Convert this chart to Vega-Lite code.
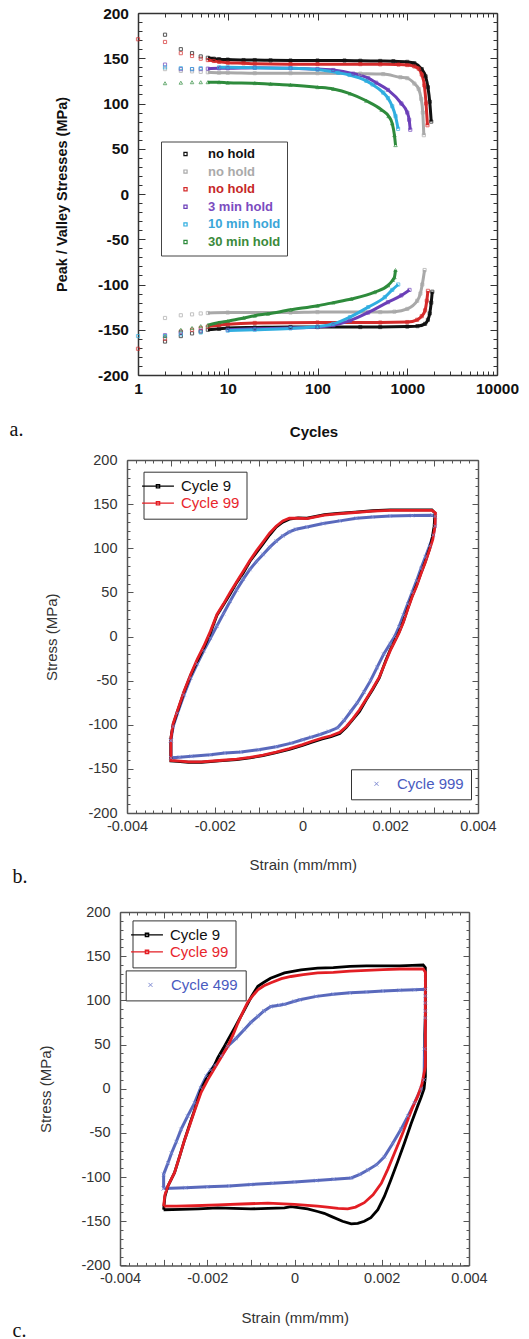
{
"$schema": "https://vega.github.io/schema/vega-lite/v6.json",
"background": "white",
"padding": {"left": 9, "top": 6, "right": 0, "bottom": 0},
"autosize": {"type": "pad"},
"bounds": "flush",
"spacing": 0,
"resolve": {"scale": {"color": "independent", "shape": "independent", "stroke": "independent"}, "legend": {"color": "independent", "shape": "independent"}},
"config": {"view": {"stroke": null}, "font": "Liberation Sans", "axis": {"grid": false}},
"datasets": {
"pa": [
{"s":"no hold","b":"p","c":2,"v":176},{"s":"no hold","b":"p","c":3,"v":160},{"s":"no hold","b":"p","c":4,"v":155.6},{"s":"no hold","b":"p","c":5,"v":152},{"s":"no hold","b":"p","c":6,"v":150.5},{"s":"no hold","b":"p","c":7,"v":149.5},{"s":"no hold","b":"p","c":8,"v":149},{"s":"no hold","b":"p","c":10,"v":148.5},{"s":"no hold","b":"p","c":15,"v":148},{"s":"no hold","b":"p","c":20,"v":148},{"s":"no hold","b":"p","c":30,"v":147.7},{"s":"no hold","b":"p","c":50,"v":147.5},{"s":"no hold","b":"p","c":100,"v":147.5},{"s":"no hold","b":"p","c":200,"v":147.5},{"s":"no hold","b":"p","c":300,"v":147.2},{"s":"no hold","b":"p","c":500,"v":147},{"s":"no hold","b":"p","c":700,"v":146.8},{"s":"no hold","b":"p","c":1000,"v":146},{"s":"no hold","b":"p","c":1200,"v":144.5},{"s":"no hold","b":"p","c":1450,"v":138},{"s":"no hold","b":"p","c":1600,"v":130},{"s":"no hold","b":"p","c":1700,"v":118},{"s":"no hold","b":"p","c":1780,"v":102},{"s":"no hold","b":"p","c":1850,"v":80},
{"s":"no hold","b":"v","c":2,"v":-163},{"s":"no hold","b":"v","c":3,"v":-157},{"s":"no hold","b":"v","c":4,"v":-154},{"s":"no hold","b":"v","c":5,"v":-152},{"s":"no hold","b":"v","c":6,"v":-150},{"s":"no hold","b":"v","c":8,"v":-149},{"s":"no hold","b":"v","c":10,"v":-148},{"s":"no hold","b":"v","c":20,"v":-147.5},{"s":"no hold","b":"v","c":50,"v":-147},{"s":"no hold","b":"v","c":100,"v":-147},{"s":"no hold","b":"v","c":300,"v":-147},{"s":"no hold","b":"v","c":500,"v":-147},{"s":"no hold","b":"v","c":1000,"v":-146.5},{"s":"no hold","b":"v","c":1300,"v":-146},{"s":"no hold","b":"v","c":1580,"v":-143.5},{"s":"no hold","b":"v","c":1700,"v":-139},{"s":"no hold","b":"v","c":1780,"v":-132},{"s":"no hold","b":"v","c":1850,"v":-120},{"s":"no hold","b":"v","c":1900,"v":-108},
{"s":"no hold ","b":"p","c":2,"v":138},{"s":"no hold ","b":"p","c":3,"v":136},{"s":"no hold ","b":"p","c":4,"v":135.5},{"s":"no hold ","b":"p","c":5,"v":135},{"s":"no hold ","b":"p","c":6,"v":134.5},{"s":"no hold ","b":"p","c":8,"v":134},{"s":"no hold ","b":"p","c":10,"v":134},{"s":"no hold ","b":"p","c":20,"v":133.5},{"s":"no hold ","b":"p","c":50,"v":133.5},{"s":"no hold ","b":"p","c":100,"v":133.5},{"s":"no hold ","b":"p","c":300,"v":133},{"s":"no hold ","b":"p","c":540,"v":132.5},{"s":"no hold ","b":"p","c":840,"v":129},{"s":"no hold ","b":"p","c":1000,"v":128},{"s":"no hold ","b":"p","c":1200,"v":122},{"s":"no hold ","b":"p","c":1340,"v":116},{"s":"no hold ","b":"p","c":1430,"v":105},{"s":"no hold ","b":"p","c":1490,"v":90},{"s":"no hold ","b":"p","c":1530,"v":65},
{"s":"no hold ","b":"v","c":2,"v":-137},{"s":"no hold ","b":"v","c":3,"v":-134},{"s":"no hold ","b":"v","c":4,"v":-133},{"s":"no hold ","b":"v","c":5,"v":-132},{"s":"no hold ","b":"v","c":6,"v":-131.5},{"s":"no hold ","b":"v","c":10,"v":-131},{"s":"no hold ","b":"v","c":50,"v":-131},{"s":"no hold ","b":"v","c":100,"v":-130.5},{"s":"no hold ","b":"v","c":500,"v":-130.5},{"s":"no hold ","b":"v","c":720,"v":-130},{"s":"no hold ","b":"v","c":1000,"v":-127},{"s":"no hold ","b":"v","c":1290,"v":-118},{"s":"no hold ","b":"v","c":1400,"v":-110},{"s":"no hold ","b":"v","c":1470,"v":-100},{"s":"no hold ","b":"v","c":1560,"v":-84},
{"s":"no hold  ","b":"p","c":1,"v":171},{"s":"no hold  ","b":"p","c":2,"v":168},{"s":"no hold  ","b":"p","c":3,"v":155.6},{"s":"no hold  ","b":"p","c":4,"v":152.5},{"s":"no hold  ","b":"p","c":5,"v":149.5},{"s":"no hold  ","b":"p","c":6,"v":148},{"s":"no hold  ","b":"p","c":7,"v":147},{"s":"no hold  ","b":"p","c":8,"v":146},{"s":"no hold  ","b":"p","c":10,"v":145},{"s":"no hold  ","b":"p","c":15,"v":144.5},{"s":"no hold  ","b":"p","c":20,"v":144},{"s":"no hold  ","b":"p","c":50,"v":143.5},{"s":"no hold  ","b":"p","c":100,"v":143.5},{"s":"no hold  ","b":"p","c":300,"v":143.5},{"s":"no hold  ","b":"p","c":500,"v":143.3},{"s":"no hold  ","b":"p","c":800,"v":143},{"s":"no hold  ","b":"p","c":1000,"v":142.5},{"s":"no hold  ","b":"p","c":1200,"v":141},{"s":"no hold  ","b":"p","c":1340,"v":138.5},{"s":"no hold  ","b":"p","c":1450,"v":132},{"s":"no hold  ","b":"p","c":1550,"v":120},{"s":"no hold  ","b":"p","c":1620,"v":100},{"s":"no hold  ","b":"p","c":1680,"v":76},
{"s":"no hold  ","b":"v","c":1,"v":-171},{"s":"no hold  ","b":"v","c":2,"v":-160},{"s":"no hold  ","b":"v","c":3,"v":-152},{"s":"no hold  ","b":"v","c":4,"v":-150},{"s":"no hold  ","b":"v","c":5,"v":-148},{"s":"no hold  ","b":"v","c":6,"v":-146.5},{"s":"no hold  ","b":"v","c":8,"v":-145},{"s":"no hold  ","b":"v","c":10,"v":-144},{"s":"no hold  ","b":"v","c":20,"v":-142.5},{"s":"no hold  ","b":"v","c":100,"v":-142},{"s":"no hold  ","b":"v","c":500,"v":-142},{"s":"no hold  ","b":"v","c":1000,"v":-141.5},{"s":"no hold  ","b":"v","c":1290,"v":-139},{"s":"no hold  ","b":"v","c":1450,"v":-135},{"s":"no hold  ","b":"v","c":1580,"v":-128.5},{"s":"no hold  ","b":"v","c":1650,"v":-118},{"s":"no hold  ","b":"v","c":1700,"v":-107},
{"s":"3 min hold","b":"p","c":2,"v":143},{"s":"3 min hold","b":"p","c":3,"v":138},{"s":"3 min hold","b":"p","c":4,"v":138},{"s":"3 min hold","b":"p","c":5,"v":138},{"s":"3 min hold","b":"p","c":6,"v":138.5},{"s":"3 min hold","b":"p","c":8,"v":139},{"s":"3 min hold","b":"p","c":10,"v":139},{"s":"3 min hold","b":"p","c":20,"v":139.5},{"s":"3 min hold","b":"p","c":50,"v":139},{"s":"3 min hold","b":"p","c":100,"v":138},{"s":"3 min hold","b":"p","c":150,"v":137},{"s":"3 min hold","b":"p","c":250,"v":133},{"s":"3 min hold","b":"p","c":367,"v":128},{"s":"3 min hold","b":"p","c":450,"v":123},{"s":"3 min hold","b":"p","c":610,"v":115},{"s":"3 min hold","b":"p","c":860,"v":100},{"s":"3 min hold","b":"p","c":1000,"v":90},{"s":"3 min hold","b":"p","c":1050,"v":82},{"s":"3 min hold","b":"p","c":1080,"v":71},
{"s":"3 min hold","b":"v","c":2,"v":-156},{"s":"3 min hold","b":"v","c":3,"v":-153},{"s":"3 min hold","b":"v","c":5,"v":-151},{"s":"3 min hold","b":"v","c":10,"v":-150},{"s":"3 min hold","b":"v","c":20,"v":-149},{"s":"3 min hold","b":"v","c":50,"v":-148},{"s":"3 min hold","b":"v","c":100,"v":-147},{"s":"3 min hold","b":"v","c":150,"v":-145},{"s":"3 min hold","b":"v","c":230,"v":-140},{"s":"3 min hold","b":"v","c":367,"v":-131},{"s":"3 min hold","b":"v","c":610,"v":-119.5},{"s":"3 min hold","b":"v","c":860,"v":-112},{"s":"3 min hold","b":"v","c":1060,"v":-106},
{"s":"10 min hold","b":"p","c":2,"v":140},{"s":"10 min hold","b":"p","c":3,"v":139},{"s":"10 min hold","b":"p","c":4,"v":138},{"s":"10 min hold","b":"p","c":5,"v":139},{"s":"10 min hold","b":"p","c":8,"v":140},{"s":"10 min hold","b":"p","c":10,"v":140},{"s":"10 min hold","b":"p","c":20,"v":139.5},{"s":"10 min hold","b":"p","c":50,"v":139},{"s":"10 min hold","b":"p","c":100,"v":137.5},{"s":"10 min hold","b":"p","c":170,"v":134},{"s":"10 min hold","b":"p","c":227,"v":131.5},{"s":"10 min hold","b":"p","c":350,"v":125},{"s":"10 min hold","b":"p","c":410,"v":121},{"s":"10 min hold","b":"p","c":540,"v":112},{"s":"10 min hold","b":"p","c":610,"v":106},{"s":"10 min hold","b":"p","c":680,"v":97},{"s":"10 min hold","b":"p","c":740,"v":86},{"s":"10 min hold","b":"p","c":790,"v":72},
{"s":"10 min hold","b":"v","c":1,"v":-157},{"s":"10 min hold","b":"v","c":2,"v":-157},{"s":"10 min hold","b":"v","c":3,"v":-155},{"s":"10 min hold","b":"v","c":5,"v":-153},{"s":"10 min hold","b":"v","c":10,"v":-151},{"s":"10 min hold","b":"v","c":20,"v":-150},{"s":"10 min hold","b":"v","c":50,"v":-148.5},{"s":"10 min hold","b":"v","c":100,"v":-146.5},{"s":"10 min hold","b":"v","c":150,"v":-143.5},{"s":"10 min hold","b":"v","c":230,"v":-136},{"s":"10 min hold","b":"v","c":367,"v":-125},{"s":"10 min hold","b":"v","c":563,"v":-114},{"s":"10 min hold","b":"v","c":680,"v":-106},{"s":"10 min hold","b":"v","c":793,"v":-100},
{"s":"30 min hold","b":"p","c":2,"v":122.4},{"s":"30 min hold","b":"p","c":3,"v":123},{"s":"30 min hold","b":"p","c":4,"v":123.5},{"s":"30 min hold","b":"p","c":5,"v":123.5},{"s":"30 min hold","b":"p","c":6,"v":123.5},{"s":"30 min hold","b":"p","c":8,"v":123.5},{"s":"30 min hold","b":"p","c":10,"v":123},{"s":"30 min hold","b":"p","c":20,"v":122.5},{"s":"30 min hold","b":"p","c":30,"v":121.5},{"s":"30 min hold","b":"p","c":50,"v":120.5},{"s":"30 min hold","b":"p","c":100,"v":118},{"s":"30 min hold","b":"p","c":150,"v":116},{"s":"30 min hold","b":"p","c":230,"v":111},{"s":"30 min hold","b":"p","c":350,"v":103},{"s":"30 min hold","b":"p","c":518,"v":93},{"s":"30 min hold","b":"p","c":620,"v":86},{"s":"30 min hold","b":"p","c":680,"v":78},{"s":"30 min hold","b":"p","c":720,"v":65},{"s":"30 min hold","b":"p","c":740,"v":54},
{"s":"30 min hold","b":"v","c":2,"v":-157},{"s":"30 min hold","b":"v","c":3,"v":-150},{"s":"30 min hold","b":"v","c":4,"v":-148},{"s":"30 min hold","b":"v","c":5,"v":-146},{"s":"30 min hold","b":"v","c":6,"v":-145},{"s":"30 min hold","b":"v","c":8,"v":-142},{"s":"30 min hold","b":"v","c":10,"v":-140.5},{"s":"30 min hold","b":"v","c":15,"v":-137},{"s":"30 min hold","b":"v","c":20,"v":-134.5},{"s":"30 min hold","b":"v","c":28,"v":-132.4},{"s":"30 min hold","b":"v","c":50,"v":-128},{"s":"30 min hold","b":"v","c":100,"v":-123.5},{"s":"30 min hold","b":"v","c":150,"v":-120},{"s":"30 min hold","b":"v","c":238,"v":-116},{"s":"30 min hold","b":"v","c":433,"v":-108.5},{"s":"30 min hold","b":"v","c":610,"v":-101},{"s":"30 min hold","b":"v","c":690,"v":-95},{"s":"30 min hold","b":"v","c":720,"v":-92},{"s":"30 min hold","b":"v","c":740,"v":-84}
],
"bl": [
{"k":"Cycle 9","i":1,"s":-0.003,"v":-115},{"k":"Cycle 9","i":2,"s":-0.00295,"v":-100},{"k":"Cycle 9","i":3,"s":-0.00285,"v":-85},{"k":"Cycle 9","i":4,"s":-0.0027,"v":-63},{"k":"Cycle 9","i":5,"s":-0.00255,"v":-44},{"k":"Cycle 9","i":6,"s":-0.0024,"v":-28},{"k":"Cycle 9","i":7,"s":-0.00225,"v":-13},{"k":"Cycle 9","i":8,"s":-0.0021,"v":4},{"k":"Cycle 9","i":9,"s":-0.00195,"v":24},{"k":"Cycle 9","i":10,"s":-0.0018,"v":36},{"k":"Cycle 9","i":11,"s":-0.00165,"v":48},{"k":"Cycle 9","i":12,"s":-0.0015,"v":61},{"k":"Cycle 9","i":13,"s":-0.00135,"v":72},{"k":"Cycle 9","i":14,"s":-0.0012,"v":85},{"k":"Cycle 9","i":15,"s":-0.00105,"v":95},{"k":"Cycle 9","i":16,"s":-0.0009,"v":105},{"k":"Cycle 9","i":17,"s":-0.00075,"v":115},{"k":"Cycle 9","i":18,"s":-0.0006,"v":124},{"k":"Cycle 9","i":19,"s":-0.00045,"v":129.5},{"k":"Cycle 9","i":20,"s":-0.0003,"v":133},{"k":"Cycle 9","i":21,"s":-0.0001,"v":134.5},{"k":"Cycle 9","i":22,"s":0.0001,"v":134},{"k":"Cycle 9","i":23,"s":0.0003,"v":136},{"k":"Cycle 9","i":24,"s":0.0005,"v":138},{"k":"Cycle 9","i":25,"s":0.0008,"v":139.5},{"k":"Cycle 9","i":26,"s":0.0012,"v":141},{"k":"Cycle 9","i":27,"s":0.0016,"v":142.5},{"k":"Cycle 9","i":28,"s":0.002,"v":143.5},{"k":"Cycle 9","i":29,"s":0.0025,"v":143.5},{"k":"Cycle 9","i":30,"s":0.00295,"v":143.5},{"k":"Cycle 9","i":31,"s":0.00302,"v":140},{"k":"Cycle 9","i":32,"s":0.003,"v":125},{"k":"Cycle 9","i":33,"s":0.00295,"v":110},{"k":"Cycle 9","i":34,"s":0.0029,"v":100},{"k":"Cycle 9","i":35,"s":0.0028,"v":85},{"k":"Cycle 9","i":36,"s":0.0027,"v":72},{"k":"Cycle 9","i":37,"s":0.0026,"v":58},{"k":"Cycle 9","i":38,"s":0.0025,"v":46},{"k":"Cycle 9","i":39,"s":0.0024,"v":32},{"k":"Cycle 9","i":40,"s":0.0023,"v":17},{"k":"Cycle 9","i":41,"s":0.0022,"v":5},{"k":"Cycle 9","i":42,"s":0.0021,"v":-5},{"k":"Cycle 9","i":43,"s":0.002,"v":-15},{"k":"Cycle 9","i":44,"s":0.0019,"v":-27},{"k":"Cycle 9","i":45,"s":0.00175,"v":-47},{"k":"Cycle 9","i":46,"s":0.0016,"v":-60},{"k":"Cycle 9","i":47,"s":0.00145,"v":-72},{"k":"Cycle 9","i":48,"s":0.0013,"v":-85},{"k":"Cycle 9","i":49,"s":0.00115,"v":-94},{"k":"Cycle 9","i":50,"s":0.001,"v":-103},{"k":"Cycle 9","i":51,"s":0.00085,"v":-110},{"k":"Cycle 9","i":52,"s":0.00065,"v":-113.5},{"k":"Cycle 9","i":53,"s":0.00045,"v":-116},{"k":"Cycle 9","i":54,"s":0.0002,"v":-120},{"k":"Cycle 9","i":55,"s":0,"v":-123.5},{"k":"Cycle 9","i":56,"s":-0.0003,"v":-128},{"k":"Cycle 9","i":57,"s":-0.0006,"v":-131.5},{"k":"Cycle 9","i":58,"s":-0.0009,"v":-135},{"k":"Cycle 9","i":59,"s":-0.0012,"v":-137.5},{"k":"Cycle 9","i":60,"s":-0.0015,"v":-139.5},{"k":"Cycle 9","i":61,"s":-0.0019,"v":-141},{"k":"Cycle 9","i":62,"s":-0.0023,"v":-142.5},{"k":"Cycle 9","i":63,"s":-0.0026,"v":-142.5},{"k":"Cycle 9","i":64,"s":-0.00285,"v":-141.5},{"k":"Cycle 9","i":65,"s":-0.003,"v":-141},{"k":"Cycle 9","i":66,"s":-0.003,"v":-115},
{"k":"Cycle 99","i":1,"s":-0.003,"v":-116},{"k":"Cycle 99","i":2,"s":-0.00295,"v":-99},{"k":"Cycle 99","i":3,"s":-0.00285,"v":-84},{"k":"Cycle 99","i":4,"s":-0.0027,"v":-62},{"k":"Cycle 99","i":5,"s":-0.00255,"v":-43},{"k":"Cycle 99","i":6,"s":-0.0024,"v":-26},{"k":"Cycle 99","i":7,"s":-0.00225,"v":-11},{"k":"Cycle 99","i":8,"s":-0.0021,"v":6},{"k":"Cycle 99","i":9,"s":-0.00195,"v":25},{"k":"Cycle 99","i":10,"s":-0.0018,"v":37},{"k":"Cycle 99","i":11,"s":-0.00165,"v":50},{"k":"Cycle 99","i":12,"s":-0.0015,"v":62},{"k":"Cycle 99","i":13,"s":-0.00135,"v":74},{"k":"Cycle 99","i":14,"s":-0.0012,"v":86},{"k":"Cycle 99","i":15,"s":-0.00105,"v":97},{"k":"Cycle 99","i":16,"s":-0.0009,"v":107},{"k":"Cycle 99","i":17,"s":-0.00075,"v":117},{"k":"Cycle 99","i":18,"s":-0.0006,"v":125},{"k":"Cycle 99","i":19,"s":-0.00045,"v":131},{"k":"Cycle 99","i":20,"s":-0.0003,"v":134},{"k":"Cycle 99","i":21,"s":-0.0001,"v":134},{"k":"Cycle 99","i":22,"s":0.0001,"v":133.5},{"k":"Cycle 99","i":23,"s":0.0003,"v":135.5},{"k":"Cycle 99","i":24,"s":0.0005,"v":137.5},{"k":"Cycle 99","i":25,"s":0.0008,"v":139},{"k":"Cycle 99","i":26,"s":0.0012,"v":140.5},{"k":"Cycle 99","i":27,"s":0.0016,"v":142},{"k":"Cycle 99","i":28,"s":0.002,"v":143},{"k":"Cycle 99","i":29,"s":0.0025,"v":143},{"k":"Cycle 99","i":30,"s":0.00295,"v":143},{"k":"Cycle 99","i":31,"s":0.00303,"v":140},{"k":"Cycle 99","i":32,"s":0.00302,"v":125},{"k":"Cycle 99","i":33,"s":0.00297,"v":110},{"k":"Cycle 99","i":34,"s":0.0029,"v":99},{"k":"Cycle 99","i":35,"s":0.0028,"v":84},{"k":"Cycle 99","i":36,"s":0.0027,"v":71},{"k":"Cycle 99","i":37,"s":0.0026,"v":57},{"k":"Cycle 99","i":38,"s":0.0025,"v":45},{"k":"Cycle 99","i":39,"s":0.0024,"v":31},{"k":"Cycle 99","i":40,"s":0.0023,"v":16},{"k":"Cycle 99","i":41,"s":0.0022,"v":4},{"k":"Cycle 99","i":42,"s":0.0021,"v":-6},{"k":"Cycle 99","i":43,"s":0.002,"v":-16},{"k":"Cycle 99","i":44,"s":0.0019,"v":-28},{"k":"Cycle 99","i":45,"s":0.00175,"v":-46},{"k":"Cycle 99","i":46,"s":0.0016,"v":-59},{"k":"Cycle 99","i":47,"s":0.00145,"v":-71},{"k":"Cycle 99","i":48,"s":0.0013,"v":-83},{"k":"Cycle 99","i":49,"s":0.00115,"v":-93},{"k":"Cycle 99","i":50,"s":0.001,"v":-102},{"k":"Cycle 99","i":51,"s":0.00085,"v":-108.5},{"k":"Cycle 99","i":52,"s":0.00065,"v":-112.5},{"k":"Cycle 99","i":53,"s":0.00045,"v":-115},{"k":"Cycle 99","i":54,"s":0.0002,"v":-119},{"k":"Cycle 99","i":55,"s":0,"v":-122.5},{"k":"Cycle 99","i":56,"s":-0.0003,"v":-127},{"k":"Cycle 99","i":57,"s":-0.0006,"v":-131},{"k":"Cycle 99","i":58,"s":-0.0009,"v":-134.5},{"k":"Cycle 99","i":59,"s":-0.0012,"v":-137},{"k":"Cycle 99","i":60,"s":-0.0015,"v":-139},{"k":"Cycle 99","i":61,"s":-0.0019,"v":-140.5},{"k":"Cycle 99","i":62,"s":-0.0023,"v":-142},{"k":"Cycle 99","i":63,"s":-0.0026,"v":-142},{"k":"Cycle 99","i":64,"s":-0.00285,"v":-141},{"k":"Cycle 99","i":65,"s":-0.003,"v":-140.5},{"k":"Cycle 99","i":66,"s":-0.003,"v":-116}
],
"bb": [
{"lab":"Cycle 999","i":1,"s":-0.003,"v":-118},{"lab":"Cycle 999","i":2,"s":-0.00295,"v":-102},{"lab":"Cycle 999","i":3,"s":-0.00285,"v":-87},{"lab":"Cycle 999","i":4,"s":-0.0027,"v":-66},{"lab":"Cycle 999","i":5,"s":-0.00255,"v":-47},{"lab":"Cycle 999","i":6,"s":-0.0024,"v":-31},{"lab":"Cycle 999","i":7,"s":-0.00225,"v":-16},{"lab":"Cycle 999","i":8,"s":-0.0021,"v":-2},{"lab":"Cycle 999","i":9,"s":-0.00195,"v":12},{"lab":"Cycle 999","i":10,"s":-0.0018,"v":26},{"lab":"Cycle 999","i":11,"s":-0.00165,"v":40},{"lab":"Cycle 999","i":12,"s":-0.0015,"v":53},{"lab":"Cycle 999","i":13,"s":-0.00135,"v":65},{"lab":"Cycle 999","i":14,"s":-0.0012,"v":76},{"lab":"Cycle 999","i":15,"s":-0.00105,"v":85},{"lab":"Cycle 999","i":16,"s":-0.0009,"v":93},{"lab":"Cycle 999","i":17,"s":-0.00075,"v":101},{"lab":"Cycle 999","i":18,"s":-0.0006,"v":108},{"lab":"Cycle 999","i":19,"s":-0.00045,"v":114},{"lab":"Cycle 999","i":20,"s":-0.0003,"v":118.5},{"lab":"Cycle 999","i":21,"s":-0.00015,"v":121.5},{"lab":"Cycle 999","i":22,"s":0.0001,"v":124},{"lab":"Cycle 999","i":23,"s":0.00047,"v":128},{"lab":"Cycle 999","i":24,"s":0.00085,"v":131},{"lab":"Cycle 999","i":25,"s":0.00123,"v":134},{"lab":"Cycle 999","i":26,"s":0.0016,"v":135.5},{"lab":"Cycle 999","i":27,"s":0.002,"v":136.5},{"lab":"Cycle 999","i":28,"s":0.0025,"v":137},{"lab":"Cycle 999","i":29,"s":0.00295,"v":137.5},{"lab":"Cycle 999","i":30,"s":0.00302,"v":136},{"lab":"Cycle 999","i":31,"s":0.00302,"v":125},{"lab":"Cycle 999","i":32,"s":0.00298,"v":115},{"lab":"Cycle 999","i":33,"s":0.0029,"v":103},{"lab":"Cycle 999","i":34,"s":0.0028,"v":90},{"lab":"Cycle 999","i":35,"s":0.0027,"v":77},{"lab":"Cycle 999","i":36,"s":0.0026,"v":63},{"lab":"Cycle 999","i":37,"s":0.0025,"v":50},{"lab":"Cycle 999","i":38,"s":0.0024,"v":37},{"lab":"Cycle 999","i":39,"s":0.0023,"v":24},{"lab":"Cycle 999","i":40,"s":0.0022,"v":11},{"lab":"Cycle 999","i":41,"s":0.0021,"v":0},{"lab":"Cycle 999","i":42,"s":0.002,"v":-8},{"lab":"Cycle 999","i":43,"s":0.00185,"v":-20},{"lab":"Cycle 999","i":44,"s":0.0017,"v":-35},{"lab":"Cycle 999","i":45,"s":0.00155,"v":-50},{"lab":"Cycle 999","i":46,"s":0.0014,"v":-63},{"lab":"Cycle 999","i":47,"s":0.00125,"v":-75},{"lab":"Cycle 999","i":48,"s":0.0011,"v":-85},{"lab":"Cycle 999","i":49,"s":0.00095,"v":-95},{"lab":"Cycle 999","i":50,"s":0.0008,"v":-103.5},{"lab":"Cycle 999","i":51,"s":0.0006,"v":-107.5},{"lab":"Cycle 999","i":52,"s":0.0004,"v":-111},{"lab":"Cycle 999","i":53,"s":0.0002,"v":-114},{"lab":"Cycle 999","i":54,"s":0,"v":-117},{"lab":"Cycle 999","i":55,"s":-0.00025,"v":-120.8},{"lab":"Cycle 999","i":56,"s":-0.0006,"v":-125},{"lab":"Cycle 999","i":57,"s":-0.001,"v":-128.3},{"lab":"Cycle 999","i":58,"s":-0.0014,"v":-130.8},{"lab":"Cycle 999","i":59,"s":-0.00177,"v":-132},{"lab":"Cycle 999","i":60,"s":-0.0021,"v":-134},{"lab":"Cycle 999","i":61,"s":-0.00253,"v":-135.8},{"lab":"Cycle 999","i":62,"s":-0.0028,"v":-136.8},{"lab":"Cycle 999","i":63,"s":-0.003,"v":-137.5},{"lab":"Cycle 999","i":64,"s":-0.003,"v":-118}
],
"cl": [
{"k":"Cycle 9","i":1,"s":-0.003,"v":-137},{"k":"Cycle 9","i":2,"s":-0.00297,"v":-122},{"k":"Cycle 9","i":3,"s":-0.0029,"v":-110},{"k":"Cycle 9","i":4,"s":-0.00275,"v":-95},{"k":"Cycle 9","i":5,"s":-0.00263,"v":-76},{"k":"Cycle 9","i":6,"s":-0.00252,"v":-58},{"k":"Cycle 9","i":7,"s":-0.0024,"v":-40},{"k":"Cycle 9","i":8,"s":-0.00229,"v":-24},{"k":"Cycle 9","i":9,"s":-0.00214,"v":-1},{"k":"Cycle 9","i":10,"s":-0.00199,"v":14},{"k":"Cycle 9","i":11,"s":-0.00185,"v":25},{"k":"Cycle 9","i":12,"s":-0.00176,"v":35},{"k":"Cycle 9","i":13,"s":-0.00163,"v":46},{"k":"Cycle 9","i":14,"s":-0.00153,"v":55},{"k":"Cycle 9","i":15,"s":-0.00137,"v":69},{"k":"Cycle 9","i":16,"s":-0.00125,"v":80},{"k":"Cycle 9","i":17,"s":-0.00115,"v":89},{"k":"Cycle 9","i":18,"s":-0.00099,"v":104},{"k":"Cycle 9","i":19,"s":-0.00084,"v":116},{"k":"Cycle 9","i":20,"s":-0.0007,"v":120.5},{"k":"Cycle 9","i":21,"s":-0.00055,"v":125},{"k":"Cycle 9","i":22,"s":-0.00023,"v":131},{"k":"Cycle 9","i":23,"s":0.00015,"v":134.5},{"k":"Cycle 9","i":24,"s":0.00053,"v":136.5},{"k":"Cycle 9","i":25,"s":0.00089,"v":137},{"k":"Cycle 9","i":26,"s":0.00127,"v":138.5},{"k":"Cycle 9","i":27,"s":0.00165,"v":139},{"k":"Cycle 9","i":28,"s":0.00203,"v":139},{"k":"Cycle 9","i":29,"s":0.00241,"v":139},{"k":"Cycle 9","i":30,"s":0.0027,"v":139.5},{"k":"Cycle 9","i":31,"s":0.00295,"v":140},{"k":"Cycle 9","i":32,"s":0.003,"v":137},{"k":"Cycle 9","i":33,"s":0.003,"v":112},{"k":"Cycle 9","i":34,"s":0.003,"v":85},{"k":"Cycle 9","i":35,"s":0.00299,"v":61},{"k":"Cycle 9","i":36,"s":0.003,"v":35},{"k":"Cycle 9","i":37,"s":0.003,"v":14},{"k":"Cycle 9","i":38,"s":0.00297,"v":0},{"k":"Cycle 9","i":39,"s":0.0029,"v":-10},{"k":"Cycle 9","i":40,"s":0.00282,"v":-20},{"k":"Cycle 9","i":41,"s":0.00267,"v":-40},{"k":"Cycle 9","i":42,"s":0.00252,"v":-61.5},{"k":"Cycle 9","i":43,"s":0.00237,"v":-82},{"k":"Cycle 9","i":44,"s":0.00221,"v":-103},{"k":"Cycle 9","i":45,"s":0.00206,"v":-122},{"k":"Cycle 9","i":46,"s":0.00191,"v":-137},{"k":"Cycle 9","i":47,"s":0.00175,"v":-146},{"k":"Cycle 9","i":48,"s":0.0016,"v":-150},{"k":"Cycle 9","i":49,"s":0.00145,"v":-152.5},{"k":"Cycle 9","i":50,"s":0.0013,"v":-153},{"k":"Cycle 9","i":51,"s":0.0011,"v":-150},{"k":"Cycle 9","i":52,"s":0.00084,"v":-144.5},{"k":"Cycle 9","i":53,"s":0.00068,"v":-141},{"k":"Cycle 9","i":54,"s":0.00053,"v":-139},{"k":"Cycle 9","i":55,"s":0.0003,"v":-136},{"k":"Cycle 9","i":56,"s":-0.00008,"v":-133.5},{"k":"Cycle 9","i":57,"s":-0.00023,"v":-135},{"k":"Cycle 9","i":58,"s":-0.0006,"v":-135.5},{"k":"Cycle 9","i":59,"s":-0.001,"v":-136},{"k":"Cycle 9","i":60,"s":-0.0014,"v":-135.5},{"k":"Cycle 9","i":61,"s":-0.00176,"v":-135},{"k":"Cycle 9","i":62,"s":-0.0022,"v":-136},{"k":"Cycle 9","i":63,"s":-0.0026,"v":-136.5},{"k":"Cycle 9","i":64,"s":-0.003,"v":-137},
{"k":"Cycle 99","i":1,"s":-0.003,"v":-133},{"k":"Cycle 99","i":2,"s":-0.00297,"v":-120},{"k":"Cycle 99","i":3,"s":-0.0029,"v":-110},{"k":"Cycle 99","i":4,"s":-0.00275,"v":-95},{"k":"Cycle 99","i":5,"s":-0.00263,"v":-76},{"k":"Cycle 99","i":6,"s":-0.00252,"v":-58},{"k":"Cycle 99","i":7,"s":-0.0024,"v":-41},{"k":"Cycle 99","i":8,"s":-0.00229,"v":-25},{"k":"Cycle 99","i":9,"s":-0.00214,"v":-4},{"k":"Cycle 99","i":10,"s":-0.00199,"v":10},{"k":"Cycle 99","i":11,"s":-0.00187,"v":20},{"k":"Cycle 99","i":12,"s":-0.00176,"v":29},{"k":"Cycle 99","i":13,"s":-0.00165,"v":38},{"k":"Cycle 99","i":14,"s":-0.00153,"v":48},{"k":"Cycle 99","i":15,"s":-0.0014,"v":62},{"k":"Cycle 99","i":16,"s":-0.0013,"v":74},{"k":"Cycle 99","i":17,"s":-0.00118,"v":87},{"k":"Cycle 99","i":18,"s":-0.00107,"v":98},{"k":"Cycle 99","i":19,"s":-0.00096,"v":105},{"k":"Cycle 99","i":20,"s":-0.00084,"v":112},{"k":"Cycle 99","i":21,"s":-0.0007,"v":116.5},{"k":"Cycle 99","i":22,"s":-0.00054,"v":120},{"k":"Cycle 99","i":23,"s":-0.0003,"v":124.5},{"k":"Cycle 99","i":24,"s":-0.00008,"v":127},{"k":"Cycle 99","i":25,"s":0.0002,"v":129},{"k":"Cycle 99","i":26,"s":0.00053,"v":131},{"k":"Cycle 99","i":27,"s":0.00089,"v":131.6},{"k":"Cycle 99","i":28,"s":0.00127,"v":133},{"k":"Cycle 99","i":29,"s":0.00165,"v":134},{"k":"Cycle 99","i":30,"s":0.00203,"v":134.8},{"k":"Cycle 99","i":31,"s":0.00241,"v":135.5},{"k":"Cycle 99","i":32,"s":0.0027,"v":135.5},{"k":"Cycle 99","i":33,"s":0.00295,"v":135.5},{"k":"Cycle 99","i":34,"s":0.003,"v":132},{"k":"Cycle 99","i":35,"s":0.003,"v":110},{"k":"Cycle 99","i":36,"s":0.003,"v":85},{"k":"Cycle 99","i":37,"s":0.003,"v":60},{"k":"Cycle 99","i":38,"s":0.003,"v":40},{"k":"Cycle 99","i":39,"s":0.003,"v":25},{"k":"Cycle 99","i":40,"s":0.00292,"v":5},{"k":"Cycle 99","i":41,"s":0.00282,"v":-9},{"k":"Cycle 99","i":42,"s":0.0027,"v":-22},{"k":"Cycle 99","i":43,"s":0.0026,"v":-35},{"k":"Cycle 99","i":44,"s":0.00245,"v":-54},{"k":"Cycle 99","i":45,"s":0.00229,"v":-73},{"k":"Cycle 99","i":46,"s":0.00214,"v":-91},{"k":"Cycle 99","i":47,"s":0.00199,"v":-107},{"k":"Cycle 99","i":48,"s":0.0018,"v":-120},{"k":"Cycle 99","i":49,"s":0.0016,"v":-129},{"k":"Cycle 99","i":50,"s":0.0014,"v":-134},{"k":"Cycle 99","i":51,"s":0.00122,"v":-136},{"k":"Cycle 99","i":52,"s":0.001,"v":-135.5},{"k":"Cycle 99","i":53,"s":0.00075,"v":-134},{"k":"Cycle 99","i":54,"s":0.00053,"v":-133},{"k":"Cycle 99","i":55,"s":0,"v":-131},{"k":"Cycle 99","i":56,"s":-0.00061,"v":-129.5},{"k":"Cycle 99","i":57,"s":-0.0012,"v":-130.5},{"k":"Cycle 99","i":58,"s":-0.00176,"v":-131.5},{"k":"Cycle 99","i":59,"s":-0.0023,"v":-132.5},{"k":"Cycle 99","i":60,"s":-0.0027,"v":-133},{"k":"Cycle 99","i":61,"s":-0.003,"v":-133}
],
"cb": [
{"lab":"Cycle 499","i":1,"s":-0.003,"v":-113},{"lab":"Cycle 499","i":2,"s":-0.003,"v":-97},{"lab":"Cycle 499","i":3,"s":-0.0029,"v":-84},{"lab":"Cycle 499","i":4,"s":-0.00282,"v":-73},{"lab":"Cycle 499","i":5,"s":-0.00271,"v":-60},{"lab":"Cycle 499","i":6,"s":-0.0026,"v":-46},{"lab":"Cycle 499","i":7,"s":-0.00245,"v":-31},{"lab":"Cycle 499","i":8,"s":-0.00229,"v":-16},{"lab":"Cycle 499","i":9,"s":-0.00215,"v":1},{"lab":"Cycle 499","i":10,"s":-0.00202,"v":14},{"lab":"Cycle 499","i":11,"s":-0.00192,"v":21},{"lab":"Cycle 499","i":12,"s":-0.00183,"v":27},{"lab":"Cycle 499","i":13,"s":-0.00168,"v":37},{"lab":"Cycle 499","i":14,"s":-0.00153,"v":48},{"lab":"Cycle 499","i":15,"s":-0.00134,"v":57},{"lab":"Cycle 499","i":16,"s":-0.00115,"v":67},{"lab":"Cycle 499","i":17,"s":-0.001,"v":75},{"lab":"Cycle 499","i":18,"s":-0.00084,"v":82},{"lab":"Cycle 499","i":19,"s":-0.0007,"v":88},{"lab":"Cycle 499","i":20,"s":-0.00054,"v":93},{"lab":"Cycle 499","i":21,"s":-0.00035,"v":94.5},{"lab":"Cycle 499","i":22,"s":-0.00023,"v":95.5},{"lab":"Cycle 499","i":23,"s":0,"v":99},{"lab":"Cycle 499","i":24,"s":0.00012,"v":100.7},{"lab":"Cycle 499","i":25,"s":0.0005,"v":104.5},{"lab":"Cycle 499","i":26,"s":0.00089,"v":107},{"lab":"Cycle 499","i":27,"s":0.00127,"v":108.5},{"lab":"Cycle 499","i":28,"s":0.00165,"v":109.5},{"lab":"Cycle 499","i":29,"s":0.00203,"v":110.5},{"lab":"Cycle 499","i":30,"s":0.00241,"v":111.3},{"lab":"Cycle 499","i":31,"s":0.00275,"v":112},{"lab":"Cycle 499","i":32,"s":0.003,"v":112.5},{"lab":"Cycle 499","i":33,"s":0.003,"v":105},{"lab":"Cycle 499","i":34,"s":0.003,"v":97},{"lab":"Cycle 499","i":35,"s":0.003,"v":88},{"lab":"Cycle 499","i":36,"s":0.003,"v":80},{"lab":"Cycle 499","i":37,"s":0.00298,"v":45},{"lab":"Cycle 499","i":38,"s":0.00297,"v":10},{"lab":"Cycle 499","i":39,"s":0.0029,"v":0},{"lab":"Cycle 499","i":40,"s":0.00275,"v":-16},{"lab":"Cycle 499","i":41,"s":0.0026,"v":-31},{"lab":"Cycle 499","i":42,"s":0.00244,"v":-46},{"lab":"Cycle 499","i":43,"s":0.00225,"v":-62},{"lab":"Cycle 499","i":44,"s":0.00206,"v":-77},{"lab":"Cycle 499","i":45,"s":0.00188,"v":-86},{"lab":"Cycle 499","i":46,"s":0.00168,"v":-92},{"lab":"Cycle 499","i":47,"s":0.0015,"v":-97},{"lab":"Cycle 499","i":48,"s":0.0013,"v":-101},{"lab":"Cycle 499","i":49,"s":0.0009,"v":-102.5},{"lab":"Cycle 499","i":50,"s":0.0005,"v":-104},{"lab":"Cycle 499","i":51,"s":0,"v":-105.5},{"lab":"Cycle 499","i":52,"s":-0.0005,"v":-107},{"lab":"Cycle 499","i":53,"s":-0.001,"v":-108.5},{"lab":"Cycle 499","i":54,"s":-0.0015,"v":-110},{"lab":"Cycle 499","i":55,"s":-0.002,"v":-111},{"lab":"Cycle 499","i":56,"s":-0.0025,"v":-112},{"lab":"Cycle 499","i":57,"s":-0.003,"v":-113}
]
},
"vconcat": [
{
"width": 377, "height": 362,
"resolve": {"axis": {"x": "independent", "y": "independent"}},
"layer": [
{
"data": {"name": "pa"},
"transform": [{"filter": "datum.c >= 6 && datum.s == 'no hold'"}],
"mark": {"type": "line", "strokeWidth": 3, "interpolate": "monotone"},
"encoding": {
"x": {"field": "c", "type": "quantitative", "scale": {"type": "log", "domain": [1, 10000], "range": [18, 377], "nice": false},
 "axis": {"orient": "top", "values": [1,2,3,4,5,6,7,8,9,10,20,30,40,50,60,70,80,90,100,200,300,400,500,600,700,800,900,1000,2000,3000,4000,5000,6000,7000,8000,9000,10000],
 "tickSize": {"condition": {"test": "indexof([1,10,100,1000,10000], datum.value) >= 0", "value": -7}, "value": -4},
 "labels": false, "domainColor": "#333", "domainWidth": 1.5, "tickColor": "#333",
 "title": "a.", "titleX": -111, "titleY": 416.7, "titleAlign": "left", "titleBaseline": "middle", "titleAngle": 0, "titleFont": "Liberation Serif", "titleFontSize": 20, "titleFontWeight": "normal", "titleColor": "#111"}},
"y": {"field": "v", "type": "quantitative", "scale": {"domain": [-200, 200], "nice": false, "zero": false},
 "axis": {"orient": "right", "values": [-200,-190,-180,-170,-160,-150,-140,-130,-120,-110,-100,-90,-80,-70,-60,-50,-40,-30,-20,-10,0,10,20,30,40,50,60,70,80,90,100,110,120,130,140,150,160,170,180,190,200],
 "tickSize": {"condition": {"test": "datum.value % 50 == 0", "value": -7}, "value": -4},
 "labels": false, "domainColor": "#333", "domainWidth": 1.5, "tickColor": "#333", "title": null}},
"color": {"field": "s", "type": "nominal", "scale": {"domain": ["no hold","no hold ","no hold  ","3 min hold","10 min hold","30 min hold"], "range": ["#111111","#a9a9a9","#d42a2a","#6b3fb8","#30aee0","#2e8b3c"]},
 "legend": {"title": null, "orient": "none", "legendX": 41, "legendY": 128.5, "padding": 6, "strokeColor": "#444", "fillColor": "white", "symbolType": "square", "symbolSize": 10, "symbolStrokeWidth": 1.2, "symbolOffset": 12, "labelOffset": 16, "labelFont": "Liberation Sans", "labelFontSize": 13, "labelFontWeight": "bold", "rowPadding": 3.6,
 "encode": {"labels": {"update": {"fill": {"signal": "datum.value == 'no hold' ? '#111111' : datum.value == 'no hold ' ? '#aaaaaa' : datum.value == 'no hold  ' ? '#c62828' : datum.value == '3 min hold' ? '#7b4cc0' : datum.value == '10 min hold' ? '#3aa6d8' : '#3b8a3b'"}}}}}},
"detail": {"field": "b"}
}
},
{
"data": {"name": "pa"},
"transform": [{"filter": "datum.c >= 6 && datum.s != 'no hold'"}],
"mark": {"type": "line", "strokeWidth": 3, "interpolate": "monotone"},
"encoding": {
"x": {"field": "c", "type": "quantitative", "scale": {"type": "log", "domain": [1, 10000], "range": [18, 377], "nice": false}, "axis": null},
"y": {"field": "v", "type": "quantitative", "scale": {"domain": [-200, 200], "nice": false, "zero": false}, "axis": null},
"color": {"field": "s", "type": "nominal", "scale": {"domain": ["no hold","no hold ","no hold  ","3 min hold","10 min hold","30 min hold"], "range": ["#111111","#a9a9a9","#d42a2a","#6b3fb8","#30aee0","#2e8b3c"]},
 "legend": {"title": null, "orient": "none", "legendX": 41, "legendY": 128.5, "padding": 6, "strokeColor": "#444", "fillColor": "white", "symbolType": "square", "symbolSize": 10, "symbolStrokeWidth": 1.2, "symbolOffset": 12, "labelOffset": 16, "labelFont": "Liberation Sans", "labelFontSize": 13, "labelFontWeight": "bold", "rowPadding": 3.6,
 "encode": {"labels": {"update": {"fill": {"signal": "datum.value == 'no hold' ? '#111111' : datum.value == 'no hold ' ? '#aaaaaa' : datum.value == 'no hold  ' ? '#c62828' : datum.value == '3 min hold' ? '#7b4cc0' : datum.value == '10 min hold' ? '#3aa6d8' : '#3b8a3b'"}}}}}},
"detail": {"field": "b"}
}
},
{
"data": {"name": "pa"},
"transform": [{"filter": "datum.s == 'no hold'"}],
"mark": {"type": "point", "filled": false, "size": 10, "strokeWidth": 1, "shape": "square", "color": "#111111"},
"encoding": {
"x": {"field": "c", "type": "quantitative", "scale": {"type": "log", "domain": [1, 10000], "range": [18, 377], "nice": false},
 "axis": {"orient": "bottom", "values": [1,2,3,4,5,6,7,8,9,10,20,30,40,50,60,70,80,90,100,200,300,400,500,600,700,800,900,1000,2000,3000,4000,5000,6000,7000,8000,9000,10000],
 "tickSize": {"condition": {"test": "indexof([1,10,100,1000,10000], datum.value) >= 0", "value": -7}, "value": -4},
 "labelExpr": "indexof([1,10,100,1000,10000], datum.value) >= 0 ? toString(datum.value) : ''",
 "labelPadding": 13.5, "labelFontSize": 15.5, "labelFontWeight": "bold", "labelColor": "#111", "labelFlush": false, "labelOverlap": false, "labelBound": false,
 "domainColor": "#333", "domainWidth": 1.5, "tickColor": "#333",
 "title": "Cycles", "titleX": 193.5, "titleY": 56, "titleAlign": "center", "titleBaseline": "middle", "titleFontSize": 15, "titleFontWeight": "bold", "titleColor": "#111"}},
"y": {"field": "v", "type": "quantitative", "scale": {"domain": [-200, 200], "nice": false, "zero": false},
 "axis": {"orient": "left", "offset": -18, "values": [-200,-190,-180,-170,-160,-150,-140,-130,-120,-110,-100,-90,-80,-70,-60,-50,-40,-30,-20,-10,0,10,20,30,40,50,60,70,80,90,100,110,120,130,140,150,160,170,180,190,200],
 "tickSize": {"condition": {"test": "datum.value % 50 == 0", "value": -7}, "value": -4},
 "labelExpr": "datum.value % 50 == 0 ? toString(datum.value) : ''",
 "labelPadding": 16.5, "labelFontSize": 15.5, "labelFontWeight": "bold", "labelColor": "#111", "labelOverlap": false, "labelBound": false, "labelFlush": false,
 "domainColor": "#333", "domainWidth": 1.5, "tickColor": "#333",
 "title": "Peak / Valley Stresses (MPa)", "titleX": -75.7, "titleY": 181, "titleAngle": -90, "titleAlign": "center", "titleBaseline": "middle", "titleFontSize": 14.5, "titleFontWeight": "bold", "titleColor": "#111"}}
}
},
{
"data": {"name": "pa"},
"transform": [{"filter": "datum.s == 'no hold '"}],
"mark": {"type": "point", "filled": false, "size": 10, "strokeWidth": 1, "shape": "square", "color": "#a9a9a9"},
"encoding": {
"x": {"field": "c", "type": "quantitative", "scale": {"type": "log", "domain": [1, 10000], "range": [18, 377], "nice": false}, "axis": null},
"y": {"field": "v", "type": "quantitative", "scale": {"domain": [-200, 200], "nice": false, "zero": false}, "axis": null}
}
},
{
"data": {"name": "pa"},
"transform": [{"filter": "datum.s == 'no hold  '"}],
"mark": {"type": "point", "filled": false, "size": 10, "strokeWidth": 1, "shape": "square", "color": "#d42a2a"},
"encoding": {
"x": {"field": "c", "type": "quantitative", "scale": {"type": "log", "domain": [1, 10000], "range": [18, 377], "nice": false}, "axis": null},
"y": {"field": "v", "type": "quantitative", "scale": {"domain": [-200, 200], "nice": false, "zero": false}, "axis": null}
}
},
{
"data": {"name": "pa"},
"transform": [{"filter": "datum.s == '3 min hold'"}],
"mark": {"type": "point", "filled": false, "size": 10, "strokeWidth": 1, "shape": "square", "color": "#6b3fb8"},
"encoding": {
"x": {"field": "c", "type": "quantitative", "scale": {"type": "log", "domain": [1, 10000], "range": [18, 377], "nice": false}, "axis": null},
"y": {"field": "v", "type": "quantitative", "scale": {"domain": [-200, 200], "nice": false, "zero": false}, "axis": null}
}
},
{
"data": {"name": "pa"},
"transform": [{"filter": "datum.s == '10 min hold'"}],
"mark": {"type": "point", "filled": false, "size": 10, "strokeWidth": 1, "shape": "square", "color": "#30aee0"},
"encoding": {
"x": {"field": "c", "type": "quantitative", "scale": {"type": "log", "domain": [1, 10000], "range": [18, 377], "nice": false}, "axis": null},
"y": {"field": "v", "type": "quantitative", "scale": {"domain": [-200, 200], "nice": false, "zero": false}, "axis": null}
}
},
{
"data": {"name": "pa"},
"transform": [{"filter": "datum.s == '30 min hold'"}],
"mark": {"type": "point", "filled": false, "size": 12, "strokeWidth": 1, "shape": "triangle-up", "color": "#2e8b3c"},
"encoding": {
"x": {"field": "c", "type": "quantitative", "scale": {"type": "log", "domain": [1, 10000], "range": [18, 377], "nice": false}, "axis": null},
"y": {"field": "v", "type": "quantitative", "scale": {"domain": [-200, 200], "nice": false, "zero": false}, "axis": null}
}
}
]
},
{"width": 1, "height": 85, "data": {"values": []}, "mark": {"type": "point", "opacity": 0}},
{
"width": 358, "height": 353,
"resolve": {"axis": {"x": "independent", "y": "independent"}},
"layer": [
{
"data": {"name": "bb"},
"mark": {"type": "line", "strokeWidth": 3, "color": "#3c4fb0", "opacity": 0.85},
"encoding": {
"x": {"field": "s", "type": "quantitative", "scale": {"domain": [-0.004, 0.004], "range": [7, 358], "nice": false, "zero": false},
 "axis": {"orient": "top", "values": [-0.004,-0.0038,-0.0036,-0.0034,-0.0032,-0.003,-0.0028,-0.0026,-0.0024,-0.0022,-0.002,-0.0018,-0.0016,-0.0014,-0.0012,-0.001,-0.0008,-0.0006,-0.0004,-0.0002,0,0.0002,0.0004,0.0006,0.0008,0.001,0.0012,0.0014,0.0016,0.0018,0.002,0.0022,0.0024,0.0026,0.0028,0.003,0.0032,0.0034,0.0036,0.0038,0.004],
 "tickSize": {"condition": {"test": "abs(datum.value*1000 - round(datum.value*1000)) < 0.01", "value": -6}, "value": -3},
 "labels": false, "domainColor": "#555", "domainWidth": 1.5, "tickColor": "#555",
 "title": "b.", "titleX": -108, "titleY": 416, "titleAlign": "left", "titleBaseline": "middle", "titleAngle": 0, "titleFont": "Liberation Serif", "titleFontSize": 20, "titleFontWeight": "normal", "titleColor": "#111"}},
"y": {"field": "v", "type": "quantitative", "scale": {"domain": [-200, 200], "nice": false, "zero": false},
 "axis": {"orient": "right", "values": [-200,-190,-180,-170,-160,-150,-140,-130,-120,-110,-100,-90,-80,-70,-60,-50,-40,-30,-20,-10,0,10,20,30,40,50,60,70,80,90,100,110,120,130,140,150,160,170,180,190,200],
 "tickSize": {"condition": {"test": "datum.value % 50 == 0", "value": -6}, "value": -3},
 "labels": false, "domainColor": "#555", "domainWidth": 1.5, "tickColor": "#555", "title": null}},
"order": {"field": "i", "type": "quantitative"}
}
},
{
"data": {"name": "bl"},
"transform": [{"filter": "datum.k == 'Cycle 9'"}],
"mark": {"type": "line", "strokeWidth": 2.8},
"encoding": {
"x": {"field": "s", "type": "quantitative", "scale": {"domain": [-0.004, 0.004], "range": [7, 358], "nice": false, "zero": false},
 "axis": {"orient": "bottom", "values": [-0.004,-0.0038,-0.0036,-0.0034,-0.0032,-0.003,-0.0028,-0.0026,-0.0024,-0.0022,-0.002,-0.0018,-0.0016,-0.0014,-0.0012,-0.001,-0.0008,-0.0006,-0.0004,-0.0002,0,0.0002,0.0004,0.0006,0.0008,0.001,0.0012,0.0014,0.0016,0.0018,0.002,0.0022,0.0024,0.0026,0.0028,0.003,0.0032,0.0034,0.0036,0.0038,0.004],
 "tickSize": {"condition": {"test": "abs(datum.value*1000 - round(datum.value*1000)) < 0.01", "value": -6}, "value": -3},
 "labelExpr": "abs(datum.value*500 - round(datum.value*500)) < 0.01 ? toString(datum.value) : ''",
 "labelPadding": 12.6, "labelFontSize": 14.5, "labelColor": "#333", "labelFlush": false, "labelOverlap": false, "labelBound": false,
 "domainColor": "#555", "domainWidth": 1.5, "tickColor": "#555",
 "title": "Strain (mm/mm)", "titleX": 182.8, "titleY": 51.7, "titleAlign": "center", "titleBaseline": "middle", "titleFontSize": 15, "titleFontWeight": "normal", "titleColor": "#333"}},
"y": {"field": "v", "type": "quantitative", "scale": {"domain": [-200, 200], "nice": false, "zero": false},
 "axis": {"orient": "left", "offset": -7, "values": [-200,-190,-180,-170,-160,-150,-140,-130,-120,-110,-100,-90,-80,-70,-60,-50,-40,-30,-20,-10,0,10,20,30,40,50,60,70,80,90,100,110,120,130,140,150,160,170,180,190,200],
 "tickSize": {"condition": {"test": "datum.value % 50 == 0", "value": -6}, "value": -3},
 "labelExpr": "datum.value % 50 == 0 ? toString(datum.value) : ''",
 "labelPadding": 16, "labelFontSize": 14.5, "labelColor": "#333", "labelOverlap": false, "labelBound": false, "labelFlush": false,
 "domainColor": "#555", "domainWidth": 1.5, "tickColor": "#555",
 "title": "Stress (MPa)", "titleX": -75.3, "titleY": 176.7, "titleAngle": -90, "titleAlign": "center", "titleBaseline": "middle", "titleFontSize": 15, "titleFontWeight": "normal", "titleColor": "#333"}},
"color": {"field": "k", "type": "nominal", "scale": {"domain": ["Cycle 9", "Cycle 99"], "range": ["#000000", "#e31e24"]},
 "legend": {"title": null, "orient": "none", "legendX": 23.5, "legendY": 11.7, "padding": 7, "strokeColor": "#333", "fillColor": "white", "symbolType": "M-2.9,0H2.9M-0.3,-0.3H0.3V0.3H-0.3Z", "symbolSize": 121, "symbolStrokeWidth": 1.3, "labelOffset": 15.5, "labelFont": "Liberation Sans", "labelFontSize": 15, "rowPadding": 1,
 "encode": {"labels": {"update": {"fill": {"signal": "datum.value == 'Cycle 99' ? '#e8262d' : '#111111'"}}}}}},
"order": {"field": "i", "type": "quantitative"}
}
},
{
"data": {"name": "bl"},
"transform": [{"filter": "datum.k == 'Cycle 99'"}],
"mark": {"type": "line", "strokeWidth": 2.8},
"encoding": {
"x": {"field": "s", "type": "quantitative", "scale": {"domain": [-0.004, 0.004], "range": [7, 358], "nice": false, "zero": false}, "axis": null},
"y": {"field": "v", "type": "quantitative", "scale": {"domain": [-200, 200], "nice": false, "zero": false}, "axis": null},
"color": {"field": "k", "type": "nominal", "scale": {"domain": ["Cycle 9", "Cycle 99"], "range": ["#000000", "#e31e24"]},
 "legend": {"title": null, "orient": "none", "legendX": 23.5, "legendY": 11.7, "padding": 7, "strokeColor": "#333", "fillColor": "white", "symbolType": "M-2.9,0H2.9M-0.3,-0.3H0.3V0.3H-0.3Z", "symbolSize": 121, "symbolStrokeWidth": 1.3, "labelOffset": 15.5, "labelFont": "Liberation Sans", "labelFontSize": 15, "rowPadding": 1,
 "encode": {"labels": {"update": {"fill": {"signal": "datum.value == 'Cycle 99' ? '#e8262d' : '#111111'"}}}}}},
"order": {"field": "i", "type": "quantitative"}
}
},
{
"data": {"name": "bb"},
"mark": {"type": "point", "filled": false, "size": 14, "strokeWidth": 1, "color": "#8090d8"},
"encoding": {
"x": {"field": "s", "type": "quantitative", "scale": {"domain": [-0.004, 0.004], "range": [7, 358], "nice": false, "zero": false}, "axis": null},
"y": {"field": "v", "type": "quantitative", "scale": {"domain": [-200, 200], "nice": false, "zero": false}, "axis": null},
"shape": {"field": "lab", "type": "nominal", "scale": {"domain": ["Cycle 999"], "range": ["M-1,-1L1,1M-1,1L1,-1"]},
 "legend": {"title": null, "orient": "none", "legendX": 231, "legendY": 309.3, "padding": 7, "strokeColor": "#333", "fillColor": "white", "symbolSize": 16, "symbolStrokeColor": "#4a5bbf", "symbolStrokeWidth": 1, "symbolOffset": 11, "labelOffset": 13, "labelFont": "Liberation Sans", "labelFontSize": 15, "labelColor": "#4a5bbf"}}
}
}
]
},
{"width": 1, "height": 99, "data": {"values": []}, "mark": {"type": "point", "opacity": 0}},
{
"width": 349, "height": 353.4,
"resolve": {"axis": {"x": "independent", "y": "independent"}},
"layer": [
{
"data": {"name": "cb"},
"mark": {"type": "line", "strokeWidth": 3, "color": "#3c4fb0", "opacity": 0.85},
"encoding": {
"x": {"field": "s", "type": "quantitative", "scale": {"domain": [-0.004, 0.004], "range": [0, 349], "nice": false, "zero": false},
 "axis": {"orient": "top", "values": [-0.004,-0.0038,-0.0036,-0.0034,-0.0032,-0.003,-0.0028,-0.0026,-0.0024,-0.0022,-0.002,-0.0018,-0.0016,-0.0014,-0.0012,-0.001,-0.0008,-0.0006,-0.0004,-0.0002,0,0.0002,0.0004,0.0006,0.0008,0.001,0.0012,0.0014,0.0016,0.0018,0.002,0.0022,0.0024,0.0026,0.0028,0.003,0.0032,0.0034,0.0036,0.0038,0.004],
 "tickSize": {"condition": {"test": "abs(datum.value*1000 - round(datum.value*1000)) < 0.01", "value": -6}, "value": -3},
 "labels": false, "domainColor": "#555", "domainWidth": 1.5, "tickColor": "#555",
 "title": "c.", "titleX": -108, "titleY": 418.7, "titleAlign": "left", "titleBaseline": "middle", "titleAngle": 0, "titleFont": "Liberation Serif", "titleFontSize": 20, "titleFontWeight": "normal", "titleColor": "#111"}},
"y": {"field": "v", "type": "quantitative", "scale": {"domain": [-200, 200], "nice": false, "zero": false},
 "axis": {"orient": "right", "values": [-200,-190,-180,-170,-160,-150,-140,-130,-120,-110,-100,-90,-80,-70,-60,-50,-40,-30,-20,-10,0,10,20,30,40,50,60,70,80,90,100,110,120,130,140,150,160,170,180,190,200],
 "tickSize": {"condition": {"test": "datum.value % 50 == 0", "value": -6}, "value": -3},
 "labels": false, "domainColor": "#555", "domainWidth": 1.5, "tickColor": "#555", "title": null}},
"order": {"field": "i", "type": "quantitative"}
}
},
{
"data": {"name": "cl"},
"transform": [{"filter": "datum.k == 'Cycle 9'"}],
"mark": {"type": "line", "strokeWidth": 2.8},
"encoding": {
"x": {"field": "s", "type": "quantitative", "scale": {"domain": [-0.004, 0.004], "range": [0, 349], "nice": false, "zero": false},
 "axis": {"orient": "bottom", "values": [-0.004,-0.0038,-0.0036,-0.0034,-0.0032,-0.003,-0.0028,-0.0026,-0.0024,-0.0022,-0.002,-0.0018,-0.0016,-0.0014,-0.0012,-0.001,-0.0008,-0.0006,-0.0004,-0.0002,0,0.0002,0.0004,0.0006,0.0008,0.001,0.0012,0.0014,0.0016,0.0018,0.002,0.0022,0.0024,0.0026,0.0028,0.003,0.0032,0.0034,0.0036,0.0038,0.004],
 "tickSize": {"condition": {"test": "abs(datum.value*1000 - round(datum.value*1000)) < 0.01", "value": -6}, "value": -3},
 "labelExpr": "abs(datum.value*500 - round(datum.value*500)) < 0.01 ? toString(datum.value) : ''",
 "labelPadding": 12.2, "labelFontSize": 14.5, "labelColor": "#333", "labelFlush": false, "labelOverlap": false, "labelBound": false,
 "domainColor": "#555", "domainWidth": 1.5, "tickColor": "#555",
 "title": "Strain (mm/mm)", "titleX": 174.7, "titleY": 52, "titleAlign": "center", "titleBaseline": "middle", "titleFontSize": 15, "titleFontWeight": "normal", "titleColor": "#333"}},
"y": {"field": "v", "type": "quantitative", "scale": {"domain": [-200, 200], "nice": false, "zero": false},
 "axis": {"orient": "left", "values": [-200,-190,-180,-170,-160,-150,-140,-130,-120,-110,-100,-90,-80,-70,-60,-50,-40,-30,-20,-10,0,10,20,30,40,50,60,70,80,90,100,110,120,130,140,150,160,170,180,190,200],
 "tickSize": {"condition": {"test": "datum.value % 50 == 0", "value": -6}, "value": -3},
 "labelExpr": "datum.value % 50 == 0 ? toString(datum.value) : ''",
 "labelPadding": 16, "labelFontSize": 14.5, "labelColor": "#333", "labelOverlap": false, "labelBound": false, "labelFlush": false,
 "domainColor": "#555", "domainWidth": 1.5, "tickColor": "#555",
 "title": "Stress (MPa)", "titleX": -75, "titleY": 176.7, "titleAngle": -90, "titleAlign": "center", "titleBaseline": "middle", "titleFontSize": 15, "titleFontWeight": "normal", "titleColor": "#333"}},
"color": {"field": "k", "type": "nominal", "scale": {"domain": ["Cycle 9", "Cycle 99"], "range": ["#000000", "#e31e24"]},
 "legend": {"title": null, "orient": "none", "legendX": 12.5, "legendY": 8.4, "padding": 7, "strokeColor": "#333", "fillColor": "white", "symbolType": "M-2.9,0H2.9M-0.3,-0.3H0.3V0.3H-0.3Z", "symbolSize": 121, "symbolStrokeWidth": 1.3, "labelOffset": 15.5, "labelFont": "Liberation Sans", "labelFontSize": 15, "rowPadding": 1,
 "encode": {"labels": {"update": {"fill": {"signal": "datum.value == 'Cycle 99' ? '#e8262d' : '#111111'"}}}}}},
"order": {"field": "i", "type": "quantitative"}
}
},
{
"data": {"name": "cl"},
"transform": [{"filter": "datum.k == 'Cycle 99'"}],
"mark": {"type": "line", "strokeWidth": 2.8},
"encoding": {
"x": {"field": "s", "type": "quantitative", "scale": {"domain": [-0.004, 0.004], "range": [0, 349], "nice": false, "zero": false}, "axis": null},
"y": {"field": "v", "type": "quantitative", "scale": {"domain": [-200, 200], "nice": false, "zero": false}, "axis": null},
"color": {"field": "k", "type": "nominal", "scale": {"domain": ["Cycle 9", "Cycle 99"], "range": ["#000000", "#e31e24"]},
 "legend": {"title": null, "orient": "none", "legendX": 12.5, "legendY": 8.4, "padding": 7, "strokeColor": "#333", "fillColor": "white", "symbolType": "M-2.9,0H2.9M-0.3,-0.3H0.3V0.3H-0.3Z", "symbolSize": 121, "symbolStrokeWidth": 1.3, "labelOffset": 15.5, "labelFont": "Liberation Sans", "labelFontSize": 15, "rowPadding": 1,
 "encode": {"labels": {"update": {"fill": {"signal": "datum.value == 'Cycle 99' ? '#e8262d' : '#111111'"}}}}}},
"order": {"field": "i", "type": "quantitative"}
}
},
{
"data": {"name": "cb"},
"mark": {"type": "point", "filled": false, "size": 14, "strokeWidth": 1, "color": "#8090d8"},
"encoding": {
"x": {"field": "s", "type": "quantitative", "scale": {"domain": [-0.004, 0.004], "range": [0, 349], "nice": false, "zero": false}, "axis": null},
"y": {"field": "v", "type": "quantitative", "scale": {"domain": [-200, 200], "nice": false, "zero": false}, "axis": null},
"shape": {"field": "lab", "type": "nominal", "scale": {"domain": ["Cycle 499"], "range": ["M-1,-1L1,1M-1,1L1,-1"]},
 "legend": {"title": null, "orient": "none", "legendX": 5.7, "legendY": 58.4, "padding": 7, "strokeColor": "#333", "fillColor": "white", "symbolSize": 16, "symbolStrokeColor": "#4a5bbf", "symbolStrokeWidth": 1, "symbolOffset": 10.3, "labelOffset": 13, "labelFont": "Liberation Sans", "labelFontSize": 15, "labelColor": "#4a5bbf"}}
}
}
]
}
]
}
